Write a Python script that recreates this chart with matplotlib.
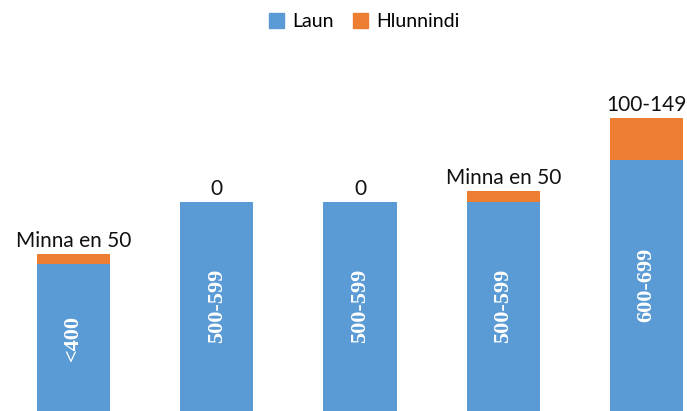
import matplotlib
matplotlib.use("Agg")
import matplotlib.pyplot as plt
from matplotlib.patches import Patch

categories = ["A", "B", "C", "D", "E"]
laun = [350, 500, 500, 500, 600]
hlunnindi = [25, 0, 0, 25, 100]
inner_labels = ["<400", "500-599", "500-599", "500-599", "600-699"]
top_labels = ["Minna en 50", "0", "0", "Minna en 50", "100-149"]

blue = "#5b9bd5"
orange = "#ed7d31"

fig = plt.figure(figsize=(6.87, 4.11), dpi=100)
ax = fig.add_axes([0, 0, 1, 1])
x = list(range(len(categories)))
ax.bar(x, laun, width=0.51, color=blue, edgecolor="none")
ax.bar(x, hlunnindi, width=0.51, bottom=laun, color=orange, edgecolor="none")

for i in x:
    ax.text(i, laun[i] / 2, inner_labels[i], rotation=90, ha="center", va="center",
            color="white", fontsize=16, fontweight="bold", family="Liberation Serif")
    ax.annotate(top_labels[i], (i, laun[i] + hlunnindi[i]), xytext=(0, 3),
                textcoords="offset pixels", ha="center", va="bottom",
                fontsize=15, color="#111111", family="Lato")

ax.set_xlim(-0.512, 4.282)
ax.set_ylim(0, 981)
ax.axis("off")

handles = [Patch(color=blue, label="Laun"), Patch(color=orange, label="Hlunnindi")]
fig.legend(handles=handles, loc="center", bbox_to_anchor=(0.53, 0.948), ncol=2,
           frameon=False, prop={"family": "Lato", "size": 14},
           handlelength=0.8, handleheight=0.8, handletextpad=0.4, columnspacing=1.0)

fig.savefig("out.png", dpi=100)
